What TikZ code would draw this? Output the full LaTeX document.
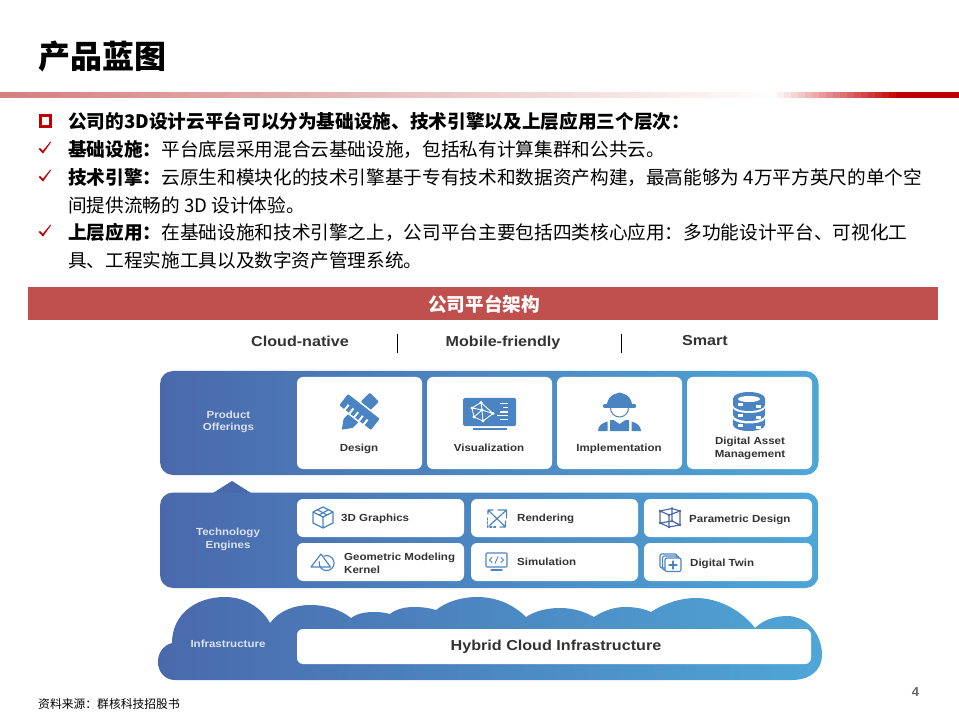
\documentclass[tikz,border=0pt]{standalone}
\usepackage{fontspec}
\setmainfont{Liberation Sans}
\newfontfamily\wide{Liberation Sans}[FakeStretch=1.12]
\newfontfamily\cjk{Noto Sans CJK SC}
\definecolor{bluel}{HTML}{4A69AC}
\definecolor{bluer}{HTML}{4EA6D7}
\definecolor{barred}{HTML}{C0504D}
\definecolor{darkred}{HTML}{C00000}
\definecolor{iconb}{HTML}{4B84C2}
\definecolor{txt}{HTML}{333333}
\tikzset{
  card/.style={fill=white,rounded corners=6pt,draw=none},
  bodyline/.style={anchor=base west,inner sep=0,font=\cjk\fontsize{18.65}{18.65}\selectfont,text=black},
  lab/.style={inner sep=0,align=center,font=\wide\bfseries\fontsize{10.3}{12.9}\selectfont,text=txt},
  llab/.style={lab,anchor=west,align=left},
  sidelab/.style={inner sep=0,align=center,font=\wide\bfseries\fontsize{10.3}{12.5}\selectfont,text=white!80!bluel},
  icon/.style={draw=iconb,line width=1.15pt,fill=none,line join=round,line cap=round},
  tag/.style={inner sep=0,font=\wide\bfseries\fontsize{14.4}{14.4}\selectfont,text=txt}
}
\begin{document}
\begin{tikzpicture}[x=1pt,y=-1pt]
\useasboundingbox (0,0) rectangle (959,719);
\fill[white] (0,0) rectangle (959,719);
% title
\node[anchor=base west,inner sep=0,font=\cjk\bfseries\fontsize{32}{32}\selectfont] (title) at (38,68.5) {产品蓝图};
% header rule, in bands
\foreach \i in {0,...,77}{
  \pgfmathsetmacro{\mixval}{100*(1-\i/78)*0.72}
  \fill[barred!\mixval!white] (\i*10,92) rectangle (\i*10+10.3,98);
}
\foreach \i in {0,...,17}{
  \pgfmathsetmacro{\mixval}{100*(\i+1)/18}
  \fill[darkred!\mixval!white] (777+\i*7,92) rectangle (777+\i*7+7.3,98);
}
\fill[darkred] (902,92) rectangle (959,98);
% bullets
\draw[darkred,line width=3pt] (40,115.6) rectangle (50.7,126.7);
\foreach \yy in {148,176,231}{
  \fill[darkred] (38.6,\yy+1) -- (40,\yy) -- (42.8,\yy+2.8) -- (50.4,\yy-6.4) -- (51.2,\yy-6) -- (43,\yy+5.6) -- cycle;
}
\node[bodyline,font=\cjk\bfseries\fontsize{18.65}{18.65}\selectfont] (l1) at (68,128.5) {公司的3D设计云平台可以分为基础设施、技术引擎以及上层应用三个层次：};
\node[bodyline] (l2) at (68,156.5) {{\bfseries 基础设施：}平台底层采用混合云基础设施，包括私有计算集群和公共云。};
\node[bodyline] (l3) at (68,184.5) {{\bfseries 技术引擎：}云原生和模块化的技术引擎基于专有技术和数据资产构建，最高能够为 4万平方英尺的单个空};
\node[bodyline] (l4) at (68,212.5) {间提供流畅的 3D 设计体验。};
\node[bodyline] (l5) at (68,239.5) {{\bfseries 上层应用：}在基础设施和技术引擎之上，公司平台主要包括四类核心应用：多功能设计平台、可视化工};
\node[bodyline] (l6) at (68,267.5) {具、工程实施工具以及数字资产管理系统。};
% red banner
\fill[barred] (28,287) rectangle (938,320);
\node[inner sep=0,text=white,font=\cjk\bfseries\fontsize{18.65}{18.65}\selectfont] (banner) at (484,304) {公司平台架构};
% tags
\node[tag] (t1) at (300,341) {Cloud-native};
\node[tag] (t2) at (503,342.5) {Mobile-friendly};
\node[tag] (t3) at (705,341) {Smart};
\draw[black,line width=1.8pt] (397.5,334) -- (397.5,353);
\draw[black,line width=1.8pt] (621.5,334) -- (621.5,353);
% panels
\shade[left color=bluel,right color=bluer,rounded corners=13pt] (160,371) rectangle (818.5,475);
\fill[bluel] (213,493) -- (232,481) -- (251,493) -- cycle;
\shade[left color=bluel,right color=bluer,rounded corners=13pt] (160,492.5) rectangle (818.5,588);
% cloud
\shade[left color=bluel,right color=bluer]
  (175,680)
  .. controls (165,680) and (158,672) .. (158,662)
  .. controls (158,652) and (164,645) .. (172,643)
  .. controls (172,615) and (195,597) .. (225,597)
  .. controls (247,597) and (263,610) .. (270,623)
  .. controls (279,611) and (294,605) .. (310,605)
  .. controls (327,605) and (341,610) .. (351,618)
  .. controls (358,613) and (366,612) .. (375,612)
  .. controls (381,612) and (386,613) .. (390,614)
  .. controls (396,609) and (405,607) .. (414,607)
  .. controls (422,607) and (430,608) .. (436,610)
  .. controls (446,602) and (461,597) .. (477,597)
  .. controls (497,597) and (514,605) .. (526,617)
  .. controls (535,611) and (547,608) .. (560,608)
  .. controls (574,608) and (585,612) .. (594,617)
  .. controls (603,611) and (614,607) .. (625,607)
  .. controls (636,607) and (645,609) .. (651,612)
  .. controls (663,604) and (680,598) .. (696,598)
  .. controls (720,598) and (743,612) .. (755,628)
  .. controls (763,620) and (775,616) .. (787,616)
  .. controls (806,616) and (822,633) .. (822,655)
  .. controls (822,670) and (810,680) .. (792,680)
  -- cycle;
% cards
\fill[card] (297,377) rectangle (422,469);
\fill[card] (427,377) rectangle (552,469);
\fill[card] (557,377) rectangle (682,469);
\fill[card] (687,377) rectangle (812,469);
\fill[card] (297,499) rectangle (464,537);
\fill[card] (471,499) rectangle (638,537);
\fill[card] (644,499) rectangle (812,537);
\fill[card] (297,543) rectangle (464,581);
\fill[card] (471,543) rectangle (638,581);
\fill[card] (644,543) rectangle (812,581);
\fill[card] (297,629) rectangle (811,664);
% side labels
\node[sidelab] (s1) at (228.5,422) {Product\\Offerings};
\node[sidelab] (s2) at (228,539.5) {Technology\\Engines};
\node[sidelab] (s3) at (228,644) {Infrastructure};
% card labels
\node[lab] (c1) at (359,449) {Design};
\node[lab] (c2) at (489,448) {Visualization};
\node[lab] (c3) at (619,449) {Implementation};
\node[lab] (c4) at (750,448.5) {Digital Asset\\Management};
\node[llab] (e1) at (341,518.5) {3D Graphics};
\node[llab] (e2) at (344,563.5) {Geometric Modeling\\Kernel};
\node[llab] (e3) at (517,518.5) {Rendering};
\node[llab] (e4) at (517,562) {Simulation};
\node[llab] (e5) at (689,520) {Parametric Design};
\node[llab] (e6) at (690,564) {Digital Twin};
\node[inner sep=0,font=\wide\bfseries\fontsize{14.4}{14.4}\selectfont,text=txt] (h1) at (556,647) {Hybrid Cloud Infrastructure};
% footer
\node[anchor=base west,inner sep=0,font=\cjk\fontsize{11.8}{12}\selectfont,text=black] (src) at (38,708) {资料来源：群核科技招股书};
\node[inner sep=0,font=\bfseries\fontsize{13}{13}\selectfont,text=black!60] (pg) at (915.5,692) {4};
% --- Design icon: pencil under ruler
\begin{scope}[shift={(359.5,412)},rotate=45]
  \fill[iconb,rounded corners=1pt] (8,-6.5) rectangle (21,6.5);
  \fill[iconb,rounded corners=.5pt] (-8,-6.5) -- (-8,6.5) -- (-16,6.5) -- (-25,0) -- (-16,-6.5) -- cycle;
\end{scope}
\begin{scope}[shift={(359.5,412)},rotate=-38]
  \fill[iconb,draw=white,line width=1.5pt,rounded corners=1.5pt] (-21,-8) rectangle (21,8);
  \foreach \xx in {-14,-8,-2,4,10} \fill[white] (\xx,8.2) rectangle (\xx+2,1);
\end{scope}
% --- Visualization icon
\fill[iconb,rounded corners=1.5pt] (463,398) rectangle (516,426);
\fill[iconb] (473,428) rectangle (507,430);
\draw[white,line width=.9pt] (481,402.5) -- (472,408) -- (474,417) -- (483,421) -- (493,413.5) -- cycle
  (481,402.5) -- (482,410) -- (472,408) (482,410) -- (474,417) (482,410) -- (483,421) (482,410) -- (493,413.5);
\foreach \p in {(481,402.5),(472,408),(474,417),(483,421),(493,413.5),(482,410)} \fill[white] \p circle (1.6);
\draw[white,line width=1.1pt] (500,403.5)--(508,403.5) (503,407.7)--(508,407.7) (500,412)--(508,412) (497,415.5)--(508,415.5) (500,419.5)--(508,419.5);
% --- Implementation icon
\draw[iconb,line width=3.2pt,line cap=round] (604.5,406) -- (634.5,406);
\fill[iconb] (607,406) .. controls (607,398) and (612,395) .. (615,394) -- (619.5,392.5) -- (624,394) .. controls (627,395) and (632,398) .. (632,406) -- cycle;
\draw[icon,line width=1pt] (610.5,408) arc[start angle=180,end angle=0,radius=9];
\fill[iconb] (598,431) .. controls (598,426) and (602,423) .. (607.5,421.5) -- (607.5,431) -- cycle;
\fill[iconb] (641,431) .. controls (641,426) and (637,423) .. (631.5,421.5) -- (631.5,431) -- cycle;
\fill[iconb] (610,431) -- (610,420) -- (613.5,420) -- (619.5,424) -- (625.5,420) -- (629,420) -- (629,431) -- cycle;
% --- Database icon
\fill[iconb] (733,398.5) arc[start angle=180,end angle=360,x radius=16,y radius=6.5] -- (765,405) arc[start angle=0,end angle=180,x radius=16,y radius=6] -- cycle;
\fill[white] (749,399) ellipse (11 and 3);
\fill[iconb] (733,408) arc[start angle=180,end angle=0,x radius=16,y radius=5] -- (765,415) arc[start angle=0,end angle=180,x radius=16,y radius=6] -- cycle;
\fill[iconb] (733,418.5) arc[start angle=180,end angle=0,x radius=16,y radius=5] -- (765,425) arc[start angle=0,end angle=180,x radius=16,y radius=6] -- cycle;
\foreach \yy in {404.5,415.5,425.5}{
  \fill[white] (738,\yy-1.5) rectangle +(5,3);
  \fill[white] (756,\yy) rectangle +(5,3);
}
% --- 3D Graphics icon
\draw[icon] (323,507) -- (333,512) -- (333,523) -- (323,528) -- (313,523) -- (313,512) -- cycle
  (313,512) -- (323,517) -- (333,512) (323,517) -- (323,528)
  (317,509.5) -- (327,515) (329,509.5) -- (319,515);
% --- Geometric icon
\draw[icon] (321,554) -- (330.5,567) -- (311,567) -- cycle;
\draw[icon] (324,556) arc[start angle=-110,end angle=190,radius=7.5];
% --- Rendering icon
\draw[icon] (489,526) -- (506,510.5) (498,510) -- (506.5,510) -- (506.5,518);
\draw[icon] (488,510) -- (505,526.5) (493,510) -- (488,510) -- (488,514) (500,527) -- (505.5,527) -- (505.5,521);
\draw[icon,dash pattern=on 2pt off 1.8pt] (487.5,518) -- (487.5,527) -- (497,527);
% --- Simulation icon
\draw[icon,rounded corners=1pt] (486,553) rectangle (507,567);
\draw[icon] (491,570) -- (502,570);
\draw[icon,line width=.9pt] (492,557.5) -- (489.5,560) -- (492,562.5) (501,557.5) -- (503.5,560) -- (501,562.5) (498,556.5) -- (495,563.5);
% --- Parametric icon
\draw[icon,draw=bluel] (660,511) -- (672,508.5) -- (680,511) -- (680,525) -- (669,527) -- (660,523) -- cycle
  (660,511) -- (669,515) -- (680,511) (669,515) -- (669,527)
  (672,508.5) -- (672,521) -- (680,525) (672,521) -- (660,523);
\foreach \p in {(660,511),(672,508.5),(680,511),(680,525),(669,527),(660,523),(669,515),(672,521)} \fill[bluel] \p circle (1.4);
% --- Digital Twin icon
\draw[icon,rounded corners=2pt] (660,554) rectangle (677,568);
\draw[icon,rounded corners=2pt] (662.5,556) rectangle (679,570);
\draw[icon,fill=white,rounded corners=2pt] (665,558) rectangle (681,571.5);
\draw[icon] (673,561) -- (673,569) (669,565) -- (677,565);
\end{tikzpicture}
\end{document}
